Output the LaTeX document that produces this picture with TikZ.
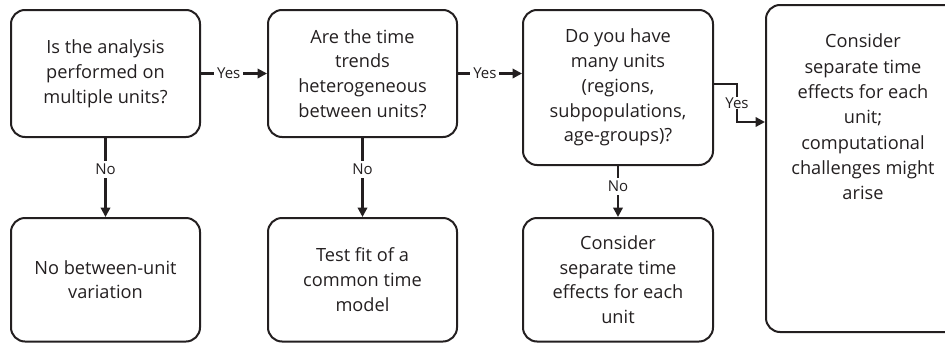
\documentclass[tikz,border=0pt]{standalone}
\usepackage{fontspec}
\setmainfont{Open Sans}
\usetikzlibrary{arrows.meta}
\definecolor{ink}{HTML}{231F20}
\tikzset{
  box/.style={draw=ink, line width=2pt, rounded corners=14pt, align=center,
    text=ink, inner sep=0pt, font=\fontsize{18.2}{24.8}\selectfont},
  flow/.style={draw=ink, line width=2.2pt,
    -{Triangle[length=9.5pt,width=9.5pt]}},
  lbl/.style={fill=white, text=ink, inner sep=3pt,
    font=\fontsize{15}{17}\selectfont},
}
\begin{document}
\begin{tikzpicture}[x=1pt,y=-1pt]
\useasboundingbox (0,0) rectangle (945,343);

% decision boxes (top row)
\node[box, minimum width=189, minimum height=127] (q1) at (105.5,73.5)
  {Is the analysis\\performed on\\multiple units?};
\node[box, minimum width=189, minimum height=127] (q2) at (362.5,73.5)
  {Are the time\\trends\\heterogeneous\\between units?};
\node[box, minimum width=190, minimum height=155] (q3) at (618,87.5)
  {Do you have\\many units\\(regions,\\subpopulations,\\age-groups)?};

% outcome boxes; the right one runs off the page edge
\node[box, minimum width=234, minimum height=327] (r) at (883,168.5) {};
\node[box, draw=none, anchor=north, font=\fontsize{18.2}{25.3}\selectfont] (rt) at (863,33)
  {Consider\\separate time\\effects for each\\unit;\\computational\\challenges might\\arise};
\node[box, minimum width=189, minimum height=123.5] (q5) at (105.5,279.75)
  {No between-unit\\variation};
\node[box, minimum width=189, minimum height=123.5] (q6) at (362.5,279.75)
  {Test fit of a\\common time\\model};
\node[box, minimum width=190, minimum height=123.5] (q7) at (618,279.75)
  {Consider\\separate time\\effects for each\\unit};

% connectors
\draw[flow] (q1) -- node[lbl, pos=0.42] {Yes} (q2);
\draw[flow] (q2.east) -- node[lbl, pos=0.42] {Yes} (q2.east -| q3.west);
\coordinate (ya) at (737,84);
\coordinate (yb) at (737,122);
\draw[flow] (ya -| q3.east) -- (ya) -- node[lbl, inner sep=1pt] {Yes} (yb) -- (yb -| r.west);
\draw[flow] (q1) -- node[lbl, pos=0.4] {No} (q5);
\draw[flow] (q2) -- node[lbl, pos=0.4] {No} (q6);
\draw[flow] (q3) -- node[lbl, pos=0.4] {No} (q7);
\end{tikzpicture}
\end{document}
